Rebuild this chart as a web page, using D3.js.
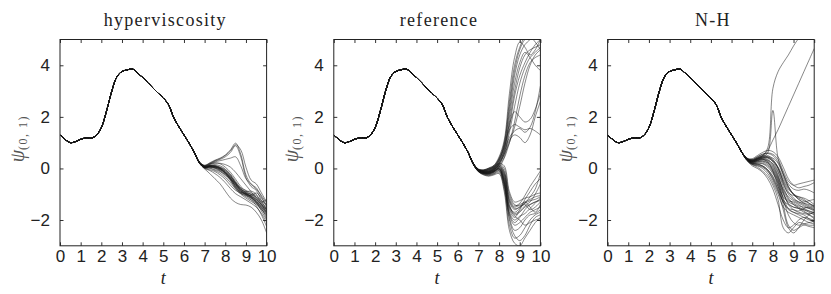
<!DOCTYPE html>
<html>
<head>
<meta charset="utf-8">
<script src="https://cdn.jsdelivr.net/npm/d3@7"></script>
<style>
body { margin: 0; background: #fff; }
</style>
</head>
<body>
<div id="chart"></div>
<script>
// shared trajectory before the ensemble spreads
var baseTimes = [0, 0.25, 0.5, 0.75, 1, 1.25, 1.5, 1.75, 2, 2.25, 2.5, 2.75, 3, 3.25, 3.5,
	3.75, 4, 4.25, 4.5, 4.75, 5, 5.25, 5.5, 5.75, 6, 6.25, 6.5];
var baseValues = [1.30, 1.12, 1.00, 1.04, 1.13, 1.18, 1.17, 1.28, 1.58, 2.22, 2.98, 3.55, 3.76, 3.82, 3.86,
	3.70, 3.53, 3.33, 3.12, 2.92, 2.73, 2.48, 1.98, 1.62, 1.30, 0.98, 0.62];
var tailTimes = [6.75, 7, 7.25, 7.5, 7.75, 8, 8.25, 8.5, 8.75, 9, 9.25, 9.5, 9.75, 10];

var hyperTails = [
	[0.22, 0.05, 0.08, 0.02, -0.08, -0.22, -0.42, -0.68, -0.88, -0.98, -1.08, -1.25, -1.45, -1.70],
	[0.24, 0.08, 0.12, 0.10, 0.02, -0.10, -0.30, -0.55, -0.78, -0.92, -1.02, -1.18, -1.40, -1.62],
	[0.20, 0.02, 0.00, -0.08, -0.18, -0.35, -0.55, -0.80, -0.98, -1.05, -1.15, -1.35, -1.58, -1.85],
	[0.23, 0.10, 0.18, 0.22, 0.18, 0.05, -0.15, -0.42, -0.70, -0.88, -1.00, -1.12, -1.30, -1.55],
	[0.21, 0.04, 0.05, 0.05, 0.00, -0.15, -0.38, -0.72, -0.95, -1.10, -1.22, -1.35, -1.55, -1.95],
	[0.25, 0.12, 0.22, 0.32, 0.40, 0.52, 0.72, 0.98, 0.55, -0.25, -0.60, -0.75, -1.10, -1.45],
	[0.24, 0.10, 0.18, 0.28, 0.35, 0.45, 0.62, 0.88, 0.45, -0.35, -0.70, -0.85, -1.25, -1.60],
	[0.25, 0.12, 0.20, 0.30, 0.38, 0.50, 0.68, 0.92, 0.72, 0.05, -0.45, -0.60, -0.95, -1.30],
	[0.23, 0.08, 0.15, 0.25, 0.30, 0.35, 0.40, 0.45, 0.10, -0.40, -0.62, -0.80, -1.05, -1.35],
	[0.20, -0.02, -0.20, -0.40, -0.60, -0.88, -1.15, -1.32, -1.40, -1.42, -1.50, -1.70, -2.00, -2.50],
	[0.21, 0.00, -0.08, -0.20, -0.35, -0.55, -0.78, -0.98, -1.10, -1.22, -1.35, -1.50, -1.75, -2.10],
	[0.22, 0.06, 0.10, 0.12, 0.05, -0.05, -0.22, -0.50, -0.75, -0.85, -0.95, -1.05, -1.25, -1.40],
	[0.22, 0.04, 0.02, -0.05, -0.12, -0.28, -0.48, -0.75, -0.92, -0.98, -1.12, -1.30, -1.65, -2.00],
	[0.23, 0.07, 0.12, 0.15, 0.10, -0.02, -0.25, -0.55, -0.78, -0.95, -1.10, -1.28, -1.48, -1.72],
	[0.22, 0.05, 0.06, 0.00, -0.10, -0.25, -0.40, -0.60, -0.80, -0.95, -1.00, -1.10, -1.35, -1.60],
	[0.21, 0.03, 0.04, 0.02, -0.05, -0.20, -0.45, -0.78, -1.00, -1.15, -1.28, -1.40, -1.60, -1.80],
	[0.24, 0.09, 0.16, 0.20, 0.20, 0.15, 0.05, -0.15, -0.40, -0.65, -0.90, -1.15, -1.40, -1.70],
	[0.22, 0.06, 0.08, 0.08, 0.02, -0.12, -0.35, -0.62, -0.85, -1.00, -1.05, -0.95, -1.15, -1.50],
	[0.20, 0.01, -0.05, -0.12, -0.25, -0.42, -0.65, -0.85, -0.95, -1.05, -1.20, -1.45, -1.80, -2.25],
	[0.23, 0.07, 0.10, 0.08, 0.00, -0.15, -0.32, -0.58, -0.82, -0.90, -0.88, -1.00, -1.30, -1.20],
	[0.22, 0.05, 0.07, 0.04, -0.04, -0.18, -0.40, -0.65, -0.90, -1.02, -1.12, -1.28, -1.50, -1.75],
	[0.22, 0.06, 0.09, 0.06, -0.02, -0.16, -0.36, -0.62, -0.86, -0.96, -1.06, -1.22, -1.42, -1.66],
	[0.22, 0.05, 0.08, 0.06, -0.02, -0.18, -0.42, -0.70, -0.92, -1.00, -1.08, -1.20, -1.38, -1.58],
	[0.23, 0.07, 0.11, 0.10, 0.04, -0.08, -0.28, -0.58, -0.85, -1.02, -1.15, -1.30, -1.52, -1.78]
];

var referenceTails = [
	[0.20, -0.05, -0.10, -0.05, 0.05, 0.30, 0.90, 2.20, 3.60, 4.40, 4.80, 5.00, 5.20, 5.30],
	[0.18, -0.08, -0.15, -0.10, 0.00, 0.20, 0.70, 1.80, 3.00, 3.90, 4.40, 4.60, 4.70, 4.80],
	[0.20, -0.02, -0.05, 0.00, 0.10, 0.40, 1.00, 2.60, 4.00, 4.70, 5.10, 5.20, 5.20, 5.20],
	[0.17, -0.10, -0.18, -0.15, -0.05, 0.15, 0.55, 1.40, 2.40, 3.30, 3.90, 4.30, 4.50, 4.70],
	[0.19, -0.04, -0.08, -0.02, 0.08, 0.35, 0.80, 1.50, 1.70, 1.60, 1.50, 1.55, 1.45, 1.30],
	[0.18, -0.06, -0.12, -0.08, 0.02, 0.25, 0.65, 1.20, 1.45, 1.55, 1.40, 1.60, 2.20, 3.20],
	[0.20, -0.03, -0.06, 0.02, 0.12, 0.45, 1.10, 2.90, 4.30, 4.90, 4.70, 4.40, 4.60, 5.00],
	[0.16, -0.12, -0.20, -0.18, -0.10, 0.05, 0.40, 1.00, 1.80, 2.80, 3.60, 4.10, 4.30, 4.40],
	[0.19, -0.05, -0.09, -0.04, 0.06, 0.28, 0.75, 2.00, 3.30, 4.10, 4.50, 4.30, 4.00, 3.80],
	[0.18, -0.07, -0.14, -0.12, -0.04, 0.12, 0.45, 1.10, 1.30, 1.20, 1.00, 1.30, 2.00, 2.60],
	[0.20, -0.04, -0.07, 0.00, 0.10, 0.38, 0.95, 2.40, 3.80, 4.60, 5.00, 5.10, 4.90, 4.60],
	[0.17, -0.09, -0.16, -0.13, -0.02, 0.18, 0.60, 1.60, 2.80, 3.60, 4.10, 4.50, 4.80, 5.00],
	[0.18, -0.06, -0.11, -0.06, 0.04, 0.22, 0.55, 1.00, 1.60, 2.40, 3.30, 4.00, 4.40, 4.60],
	[0.19, -0.04, -0.09, -0.03, 0.07, 0.32, 0.85, 1.70, 2.20, 2.00, 1.80, 1.90, 2.30, 2.90],
	[0.18, -0.08, -0.15, -0.18, -0.10, 0.05, -0.30, -1.40, -1.80, -1.70, -1.50, -1.40, -1.30, -1.20],
	[0.17, -0.10, -0.20, -0.22, -0.15, -0.05, -0.60, -1.80, -2.20, -2.10, -1.90, -1.70, -1.60, -1.50],
	[0.19, -0.06, -0.12, -0.12, -0.02, 0.15, -0.10, -1.20, -1.50, -1.40, -1.30, -1.20, -1.10, -1.05],
	[0.16, -0.12, -0.24, -0.28, -0.22, -0.15, -0.80, -2.20, -2.70, -2.60, -2.30, -2.00, -1.80, -1.70],
	[0.18, -0.09, -0.17, -0.20, -0.12, 0.00, -0.50, -1.60, -1.90, -1.60, -1.20, -0.90, -0.60, -0.40],
	[0.17, -0.11, -0.22, -0.25, -0.20, -0.10, -0.70, -2.00, -2.60, -2.80, -2.60, -2.20, -1.90, -1.80],
	[0.19, -0.05, -0.10, -0.08, 0.02, 0.20, 0.10, -0.90, -1.30, -1.25, -1.15, -1.10, -1.00, -0.95],
	[0.18, -0.07, -0.14, -0.15, -0.08, 0.08, -0.25, -1.30, -1.60, -1.50, -1.40, -1.60, -1.50, -1.30],
	[0.16, -0.13, -0.25, -0.30, -0.25, -0.20, -0.90, -2.40, -2.90, -3.00, -2.70, -2.40, -2.10, -1.90],
	[0.18, -0.08, -0.16, -0.17, -0.10, 0.02, -0.40, -1.50, -1.70, -1.55, -1.35, -1.10, -0.80, -0.20],
	[0.17, -0.10, -0.19, -0.21, -0.14, -0.02, -0.55, -1.70, -2.00, -1.85, -1.75, -1.55, -1.35, -1.15],
	[0.19, -0.06, -0.11, -0.10, 0.00, 0.18, 0.00, -1.00, -1.40, -1.45, -1.35, -1.25, -1.20, -1.10],
	[0.17, -0.11, -0.21, -0.24, -0.18, -0.08, -0.65, -1.90, -2.40, -2.30, -2.00, -1.80, -1.75, -1.60],
	[0.18, -0.08, -0.15, -0.16, -0.08, 0.06, -0.35, -1.45, -1.75, -1.65, -1.45, -1.30, -1.00, -0.60],
	[0.18, -0.07, -0.13, -0.14, -0.06, 0.10, -0.20, -1.25, -1.55, -1.50, -1.30, -1.50, -1.70, -1.40],
	[0.17, -0.09, -0.18, -0.19, -0.12, 0.00, -0.45, -1.55, -1.85, -2.00, -2.20, -2.10, -2.00, -1.95],
	[0.18, -0.07, -0.13, -0.13, -0.05, 0.12, -0.15, -1.10, -1.45, -1.35, -1.05, -0.70, -0.40, -0.10],
	[0.17, -0.10, -0.19, -0.20, -0.13, -0.03, -0.55, -1.75, -2.10, -1.90, -1.60, -1.40, -1.30, -1.25]
];

var nhTails = [
	[0.35, 0.25, 0.30, 0.35, 0.30, 0.10, -0.30, -0.80, -1.10, -1.25, -1.35, -1.45, -1.55, -1.65],
	[0.38, 0.32, 0.42, 0.50, 0.50, 0.35, 0.00, -0.50, -0.90, -1.15, -1.30, -1.40, -1.50, -1.60],
	[0.32, 0.18, 0.15, 0.10, -0.05, -0.30, -0.70, -1.10, -1.30, -1.40, -1.50, -1.60, -1.70, -1.80],
	[0.40, 0.38, 0.50, 0.62, 0.70, 0.65, 0.45, 0.05, -0.40, -0.65, -0.75, -0.70, -0.65, -0.55],
	[0.36, 0.28, 0.35, 0.40, 0.35, 0.15, -0.25, -0.90, -1.40, -1.60, -1.70, -1.75, -1.80, -1.90],
	[0.30, 0.15, 0.10, 0.00, -0.20, -0.55, -1.00, -1.50, -1.70, -1.80, -1.90, -2.00, -2.10, -2.15],
	[0.37, 0.30, 0.38, 0.45, 0.42, 0.25, -0.10, -0.60, -0.95, -1.05, -1.10, -1.15, -1.25, -1.40],
	[0.34, 0.22, 0.25, 0.25, 0.15, -0.10, -0.50, -1.20, -1.80, -2.10, -2.20, -2.15, -2.10, -2.05],
	[0.39, 0.35, 0.45, 0.55, 0.58, 0.50, 0.25, -0.20, -0.60, -0.80, -0.85, -0.80, -0.85, -0.95],
	[0.33, 0.20, 0.20, 0.18, 0.05, -0.20, -0.60, -1.40, -2.20, -2.40, -2.30, -2.20, -2.25, -2.30],
	[0.36, 0.27, 0.32, 0.38, 0.32, 0.18, -0.15, -0.70, -1.15, -1.35, -1.45, -1.50, -1.55, -1.60],
	[0.35, 0.24, 0.28, 0.30, 0.22, 0.00, -0.40, -1.00, -1.25, -1.30, -1.40, -1.55, -1.65, -1.75],
	[0.38, 0.33, 0.40, 0.48, 0.45, 0.30, 0.00, -0.45, -0.80, -1.00, -1.10, -1.20, -1.35, -1.50],
	[0.31, 0.16, 0.12, 0.05, -0.10, -0.40, -0.85, -1.60, -2.30, -2.50, -2.30, -2.00, -1.80, -1.70],
	[0.37, 0.29, 0.36, 0.42, 0.40, 0.28, 0.05, -0.35, -0.75, -1.00, -1.20, -1.35, -1.45, -1.50],
	[0.34, 0.23, 0.26, 0.28, 0.20, -0.05, -0.45, -0.95, -1.35, -1.50, -1.55, -1.65, -1.80, -1.95],
	[0.36, 0.26, 0.30, 0.34, 0.26, 0.05, -0.35, -0.85, -1.20, -1.40, -1.55, -1.70, -1.75, -1.70],
	[0.35, 0.25, 0.32, 0.40, 0.45, 0.40, 0.20, -0.25, -0.70, -1.00, -1.20, -1.30, -1.25, -1.20],
	[0.33, 0.21, 0.22, 0.20, 0.10, -0.15, -0.55, -1.15, -1.55, -1.70, -1.75, -1.80, -1.95, -2.10],
	[0.37, 0.30, 0.37, 0.44, 0.44, 0.32, 0.05, -0.55, -1.00, -1.20, -1.30, -1.35, -1.40, -1.45],
	[0.30, 0.10, 0.00, -0.15, -0.40, -0.80, -1.40, -2.00, -2.30, -2.20, -2.00, -1.90, -1.95, -2.00],
	[0.32, 0.15, 0.05, -0.10, -0.30, -0.65, -1.20, -2.30, -2.50, -2.30, -2.10, -2.15, -2.20, -2.20],
	[0.34, 0.20, 0.18, 0.10, -0.05, -0.35, -0.80, -1.30, -1.60, -1.70, -1.80, -1.90, -2.00, -2.05],
	[0.38, 0.34, 0.45, 0.55, 0.60, 0.55, 0.35, -0.10, -0.50, -0.65, -0.60, -0.55, -0.50, -0.45],
	[0.33, 0.19, 0.16, 0.08, -0.10, -0.45, -0.90, -1.25, -1.40, -1.50, -1.55, -1.60, -1.65, -1.70],
	[0.36, 0.27, 0.33, 0.36, 0.25, -0.10, -0.70, -1.30, -1.55, -1.60, -1.65, -1.55, -1.50, -1.55],
	[0.38, 0.32, 0.40, 0.50, 0.80, 3.10, 3.75, 4.10, 4.40, 4.75, 5.05, 5.30, 5.40, 5.50],
	[0.36, 0.28, 0.36, 0.45, 0.60, 2.25, 0.40, -0.20, -0.70, -1.00, -1.15, -1.25, -1.35, -1.45],
	[0.37, 0.30, 0.38, 0.48, 0.70, 1.10, 1.50, 1.95, 2.40, 2.85, 3.30, 3.75, 4.20, 4.65]
];

var panelTitles = ["hyperviscosity", "reference", "N-H"];
var panelTails = [hyperTails, referenceTails, nhTails];
var xTicks = [0, 1, 2, 3, 4, 5, 6, 7, 8, 9, 10];
var yTicks = [-2, 0, 2, 4];

function renderChart() {
	var W = 831, H = 294;
	var plotTop = 39.5, height = 206.3, width = 206.6;
	var lefts = [60, 333.8, 607.6];

	var svg = d3.select("#chart")
		.append("svg")
		.attr("width", W)
		.attr("height", H);

	var x = d3.scaleLinear().domain([0, 10]).range([0, width]);
	var y = d3.scaleLinear().domain([-3, 5]).range([height, 0]);

	var line = d3.line()
		.x(function(d) { return x(d[0]); })
		.y(function(d) { return y(d[1]); })
		.curve(d3.curveCatmullRom.alpha(0.5));

	panelTails.forEach(function(tails, p) {
		var g = svg.append("g")
			.attr("transform", "translate(" + lefts[p] + "," + plotTop + ")");

		g.append("clipPath")
			.attr("id", "clip" + p)
			.append("rect")
			.attr("width", width)
			.attr("height", height);

		// each member = shared start + its own tail
		var members = tails.map(function(tail) {
			var pts = baseTimes.map(function(t, i) { return [t, baseValues[i]]; });
			return pts.concat(tailTimes.map(function(t, i) { return [t, tail[i]]; }));
		});

		g.append("g")
			.attr("clip-path", "url(#clip" + p + ")")
			.selectAll("path")
			.data(members)
			.enter()
			.append("path")
			.attr("d", line)
			.attr("fill", "none")
			.attr("stroke", "#1a1a1a")
			.attr("stroke-opacity", 0.55)
			.attr("stroke-width", 0.95);

		// axes, ticks pointing inward
		g.append("g")
			.attr("transform", "translate(0," + height + ")")
			.call(d3.axisBottom(x).tickValues(xTicks).tickSizeInner(-3.5).tickSizeOuter(0).tickPadding(4));
		g.append("g")
			.call(d3.axisLeft(y).tickValues(yTicks).tickSizeInner(-3.5).tickSizeOuter(0).tickPadding(10));
		g.append("g")
			.call(d3.axisTop(x).tickValues(xTicks).tickSizeInner(-3.5).tickSizeOuter(0).tickFormat(""));
		g.append("g")
			.attr("transform", "translate(" + width + ",0)")
			.call(d3.axisRight(y).tickValues(yTicks).tickSizeInner(-3.5).tickSizeOuter(0).tickFormat(""));

		g.selectAll(".domain").remove();
		g.selectAll(".tick line").attr("stroke", "#333");
		g.selectAll(".tick text")
			.attr("fill", "#222")
			.style("font-family", "Liberation Sans, Arial, sans-serif")
			.style("font-size", "17px");

		g.append("rect")
			.attr("width", width)
			.attr("height", height)
			.attr("fill", "none")
			.attr("stroke", "#222")
			.attr("stroke-width", 1);

		// title
		g.append("text")
			.attr("x", width / 2 + 2)
			.attr("y", -13.5)
			.attr("text-anchor", "middle")
			.style("font-family", "Liberation Serif, Times New Roman, serif")
			.style("font-size", "18px")
			.style("letter-spacing", "1.3px")
			.attr("fill", "#222")
			.text(panelTitles[p]);

		// x label
		g.append("text")
			.attr("x", width / 2)
			.attr("y", height + 38)
			.attr("text-anchor", "middle")
			.style("font-family", "Liberation Serif, Times New Roman, serif")
			.style("font-style", "italic")
			.style("font-size", "18px")
			.attr("fill", "#222")
			.text("t");

		// y label
		var yl = g.append("text")
			.attr("transform", "translate(-36," + (height / 2 - 4) + ") rotate(-90)")
			.attr("text-anchor", "middle")
			.style("font-family", "Liberation Serif, Times New Roman, serif")
			.attr("fill", "#555");
		yl.append("tspan")
			.style("font-size", "20px")
			.style("font-style", "italic")
			.text("ψ");
		yl.append("tspan")
			.attr("dy", 3)
			.style("font-size", "12px")
			.style("letter-spacing", "1.5px")
			.text("(0, 1)");
	});
}

renderChart();
</script>
</body>
</html>
